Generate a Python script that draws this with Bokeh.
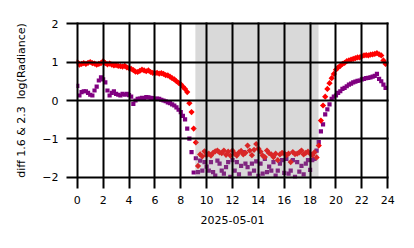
import numpy as np
from bokeh.plotting import figure
from bokeh.models import ColumnDataSource, FixedTicker, Range1d
from bokeh.embed import file_html
from bokeh.resources import INLINE

# 10-minute samples over the day (hours)
red_vals = [
    1.00, 0.93, 0.95, 0.97, 0.95, 0.98,
    1.00, 0.97, 0.96, 0.93, 0.95, 0.97,
    1.02, 0.97, 0.94, 0.96, 0.93, 0.91,
    0.92, 0.90, 0.89, 0.88, 0.90, 0.86,
    0.84, 0.82, 0.79, 0.75, 0.74, 0.77,
    0.80, 0.78, 0.76, 0.78, 0.74, 0.72,
    0.71, 0.72, 0.70, 0.71, 0.69, 0.66,
    0.65, 0.62, 0.58, 0.55, 0.50, 0.46,
    0.42, 0.36, 0.30, 0.22, -0.07, -0.30,
    -0.73, -1.09, -1.70, -1.40, -1.45, -1.32,
    -1.42, -1.38, -1.43, -1.36, -1.32, -1.30,
    -1.35, -1.37, -1.30, -1.41, -1.33, -1.43,
    -1.30, -1.38, -1.43, -1.35, -1.31, -1.40,
    -1.36, -1.17, -1.30, -1.42, -1.28, -1.13,
    -1.25, -1.33, -1.43, -1.47, -1.30, -1.37,
    -1.40, -1.47, -1.38, -1.55, -1.40, -1.36,
    -1.37, -1.42, -1.38, -1.60, -1.34, -1.39,
    -1.38, -1.35, -1.30, -1.40, -1.36, -1.33,
    -1.38, -1.42, -1.35, -1.48, -1.17, -0.52,
    -0.13, 0.10, 0.30, 0.45, 0.58, 0.69,
    0.80, 0.86, 0.90, 0.95, 0.98, 1.02,
    1.04, 1.06, 1.08, 1.10, 1.12, 1.12,
    1.15, 1.17, 1.18, 1.17, 1.19, 1.20,
    1.21, 1.23, 1.20, 1.17, 1.04, 0.95,
]
purple_vals = [
    0.38, 0.13, 0.22, 0.24, 0.24, 0.20,
    0.15, 0.13, 0.26, 0.36, 0.52, 0.60,
    0.55, 0.47, 0.26, 0.13, 0.20, 0.24,
    0.17, 0.15, 0.13, 0.17, 0.15, 0.17,
    0.14, 0.10, -0.09, 0.00, 0.04, 0.05,
    0.07, 0.06, 0.09, 0.08, 0.07, 0.06,
    0.04, 0.05, 0.04, 0.02, 0.00, -0.02,
    -0.05, -0.07, -0.10, -0.13, -0.18, -0.24,
    -0.30, -0.40, -0.49, -0.73, -0.99, -1.34,
    -1.87, -1.50, -1.86, -1.56, -1.82, -1.60,
    -1.72, -1.82, -1.60, -1.86, -1.95, -1.56,
    -1.64, -1.82, -1.90, -1.73, -1.60, -1.98,
    -1.55, -1.82, -1.60, -1.92, -1.70, -1.34,
    -1.64, -1.73, -1.90, -1.64, -1.82, -1.58,
    -1.96, -1.64, -1.90, -1.52, -1.86, -1.72,
    -1.82, -1.60, -1.95, -1.82, -1.64, -1.55,
    -1.88, -1.52, -1.90, -1.82, -1.55, -1.98,
    -1.60, -1.85, -1.70, -1.92, -1.64, -1.55,
    -1.80, -1.55, -1.52, -1.30, -1.08, -0.80,
    -0.62, -0.36, -0.23, -0.10, 0.04, 0.10,
    0.13, 0.20, 0.24, 0.30, 0.33, 0.37,
    0.41, 0.44, 0.47, 0.49, 0.51, 0.52,
    0.55, 0.56, 0.58, 0.59, 0.60, 0.62,
    0.64, 0.69, 0.56, 0.50, 0.41, 0.33,
]
hours = [k / 6 for k in range(len(red_vals))]

x_ticks = [0, 2, 4, 6, 8, 10, 12, 14, 16, 18, 20, 22, 24]
y_ticks = [-2, -1, 0, 1, 2]
y_tick_labels = ["\u22122", "\u22121", "0", "1", "2"]
night_start, night_end = 9.13, 18.65
x_label = "2025-05-01"
y_label = "diff 1.6 & 2.3 \u00a0log(Radiance)"

FONT = "DejaVu Sans"
XMIN, XMAX = -0.06, 24.06
YMIN, YMAX = -2.026, 2.026
BORDER_L, BORDER_R, BORDER_T, BORDER_B = 76, 26, 22, 70
W, H = 414, 248
FRAME_W = W - BORDER_L - BORDER_R
FRAME_H = H - BORDER_T - BORDER_B

p = figure(width=W, height=H, output_backend="svg", toolbar_location=None,
           x_range=Range1d(XMIN, XMAX), y_range=Range1d(YMIN, YMAX),
           min_border_left=BORDER_L, min_border_right=BORDER_R,
           min_border_top=BORDER_T, min_border_bottom=BORDER_B)
p.outline_line_color = None
p.background_fill_color = "white"
p.border_fill_color = "white"
p.xgrid.visible = False
p.ygrid.visible = False

# both point series in one glyph: purple squares, then red diamonds
n = len(hours)
pts = ColumnDataSource(dict(
    x=hours + hours,
    y=purple_vals + red_vals,
    c=["#800080"] * n + ["#ff0000"] * n,
    s=[4.2] * n + [4.4] * n,
    a=[0.0] * n + [np.pi / 4] * n,
))
p.scatter("x", "y", source=pts, marker="square", size="s", angle="a",
          fill_color="c", line_color=None)

# translucent night shading over the points
p.quad(left=[night_start], right=[night_end], bottom=[YMIN], top=[YMAX],
       fill_color="#808080", fill_alpha=0.3, line_color=None)

p.xaxis.ticker = FixedTicker(ticks=x_ticks)
p.yaxis.ticker = FixedTicker(ticks=y_ticks)
p.yaxis.major_label_overrides = {t: l for t, l in zip(y_ticks, y_tick_labels)}

for ax in (p.xaxis[0], p.yaxis[0]):
    ax.axis_line_color = None
    ax.major_tick_line_color = "black"
    ax.major_tick_line_width = 2
    ax.major_tick_out = 10
    ax.minor_tick_line_color = None
    ax.major_label_text_font = FONT
    ax.major_label_text_font_size = "11px"
    ax.major_label_text_color = "black"
    ax.axis_label_text_font = FONT
    ax.axis_label_text_font_size = "11px"
    ax.axis_label_text_font_style = "normal"
    ax.axis_label_text_color = "black"

# grid: major ticks drawn inward across the whole frame
p.xaxis.major_tick_in = FRAME_H
p.yaxis.major_tick_in = FRAME_W

p.xaxis.axis_label = x_label
p.yaxis.axis_label = y_label
p.xaxis.major_label_standoff = 7
p.yaxis.major_label_standoff = 8
p.xaxis.axis_label_standoff = 9
p.yaxis.axis_label_standoff = 11

open("out.html", "w").write(file_html(p, INLINE))
